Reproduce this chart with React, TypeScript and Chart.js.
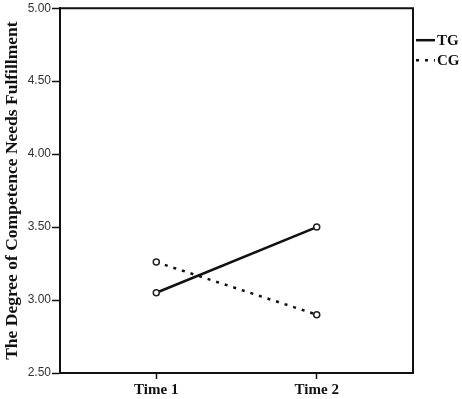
import React, { useEffect, useRef } from 'react';
import { Chart, registerables } from 'chart.js';

Chart.register(...registerables);

const timeLabels = ['Time 1', 'Time 2'];
const timePositions = [1, 2];
const tgValues = [3.05, 3.5];
const cgValues = [3.26, 2.9];
const seriesNames = ['TG', 'CG'];
const yTickValues = [2.5, 3.0, 3.5, 4.0, 4.5, 5.0];
const yAxisTitle = 'The Degree of Competence Needs Fulfillment';

const framePlugin = {
  id: 'frameAndLegend',
  afterDraw(chart: any) {
    const { ctx, chartArea } = chart;
    const { left, right, top, bottom } = chartArea;
    ctx.save();
    ctx.strokeStyle = '#111';
    ctx.lineWidth = 2;
    ctx.beginPath();
    ctx.moveTo(left, top);
    ctx.lineTo(right, top);
    ctx.lineTo(right, bottom);
    ctx.stroke();

    chart.data.datasets.forEach((ds: any, i: number) => {
      const y = top + 32 + i * 20;
      ctx.strokeStyle = '#111';
      ctx.lineWidth = 2.5;
      ctx.setLineDash(ds.borderDash || []);
      ctx.beginPath();
      ctx.moveTo(right + 3, y);
      ctx.lineTo(right + 22, y);
      ctx.stroke();
      ctx.setLineDash([]);
      ctx.fillStyle = '#111';
      ctx.font = 'bold 15px "Liberation Serif", "DejaVu Serif", serif';
      ctx.textBaseline = 'middle';
      ctx.textAlign = 'left';
      ctx.fillText(ds.label, right + 24, y + 1);
    });
    ctx.restore();
  },
};

export default function App() {
  const ref = useRef<HTMLCanvasElement | null>(null);

  useEffect(() => {
    document.body.style.margin = '0';
    const canvas = ref.current;
    if (!canvas) return;
    const chart = new Chart(canvas, {
      type: 'line',
      data: {
        datasets: [
          {
            label: seriesNames[0],
            data: timePositions.map((x, i) => ({ x, y: tgValues[i] })),
            borderColor: '#111',
            borderWidth: 2.5,
            pointRadius: 3,
            pointBackgroundColor: '#fff',
            pointBorderColor: '#222',
            pointBorderWidth: 1.5,
            tension: 0,
          },
          {
            label: seriesNames[1],
            data: timePositions.map((x, i) => ({ x, y: cgValues[i] })),
            borderColor: '#111',
            borderWidth: 2.5,
            borderDash: [3, 6],
            pointRadius: 3,
            pointBackgroundColor: '#fff',
            pointBorderColor: '#222',
            pointBorderWidth: 1.5,
            tension: 0,
          },
        ],
      },
      options: {
        animation: false,
        responsive: false,
        maintainAspectRatio: false,
        layout: { padding: { top: 6, right: 49, left: 0, bottom: 0 } },
        plugins: {
          legend: { display: false },
          tooltip: { enabled: false },
        },
        scales: {
          x: {
            type: 'linear',
            min: 0.4,
            max: 2.6,
            afterBuildTicks: (axis: any) => {
              axis.ticks = timePositions.map((v) => ({ value: v }));
            },
            afterFit: (axis: any) => {
              axis.height = 26;
            },
            ticks: {
              callback: (v: any) => {
                const idx = timePositions.indexOf(Number(v));
                return idx >= 0 ? timeLabels[idx] : '';
              },
              color: '#111',
              padding: 2,
              maxRotation: 0,
              font: { family: '"Liberation Serif", "DejaVu Serif", serif', size: 15, weight: 'bold' },
            },
            grid: {
              drawOnChartArea: false,
              drawTicks: true,
              tickLength: 6,
              color: '#111',
              tickWidth: 1.5,
            },
            border: { color: '#111', width: 2 },
          },
          y: {
            type: 'linear',
            min: 2.5,
            max: 5,
            afterBuildTicks: (axis: any) => {
              axis.ticks = yTickValues.map((v) => ({ value: v }));
            },
            afterFit: (axis: any) => {
              axis.width = 60;
            },
            ticks: {
              callback: (v: any) => Number(v).toFixed(2),
              color: '#333',
              padding: 1,
              font: { family: '"Liberation Sans", Arial, sans-serif', size: 12 },
            },
            grid: {
              drawOnChartArea: false,
              drawTicks: true,
              tickLength: 8,
              color: '#111',
              tickWidth: 1.5,
            },
            border: { color: '#111', width: 2 },
            title: {
              display: true,
              text: yAxisTitle,
              color: '#111',
              padding: { top: 2, bottom: 0 },
              font: { family: '"Liberation Serif", "DejaVu Serif", serif', size: 17.5, weight: 'bold' },
            },
          },
        },
      },
      plugins: [framePlugin],
    });
    return () => chart.destroy();
  }, []);

  return (
    <div style={{ width: 462, height: 399, position: 'relative', background: '#fff' }}>
      <canvas ref={ref} width={462} height={399} style={{ display: 'block' }} />
    </div>
  );
}
